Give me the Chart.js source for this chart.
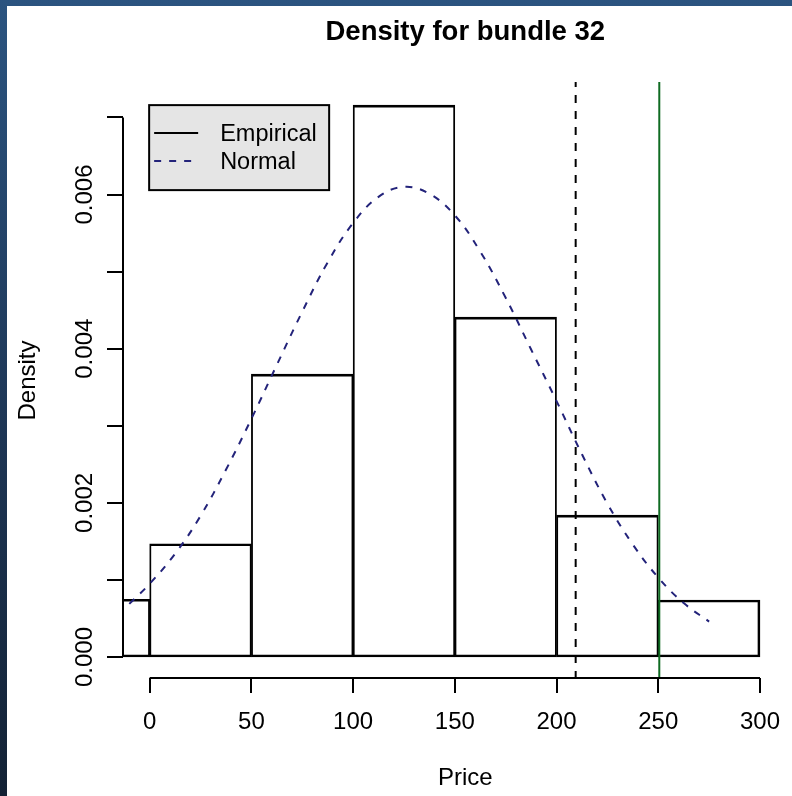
<!DOCTYPE html>
<html>
<head>
<meta charset="utf-8">
<script src="https://cdn.jsdelivr.net/npm/chart.js@4"></script>
<style>
  html, body { margin: 0; padding: 0; overflow: hidden; width: 792px; height: 796px; }
  body { background: linear-gradient(to bottom, #2b5480 0%, #1d3554 55%, #132235 100%); position: relative; }
  #wrap { position: absolute; left: 7px; top: 6px; width: 830px; height: 790px; background: #fff; }
</style>
</head>
<body>
<div id="wrap"><canvas id="chart" width="830" height="790"></canvas></div>
<script>
// Histogram bins (price) and density per bin
const binStarts = [-50, 0, 50, 100, 150, 200, 250];
const binWidth = 50;
const densities = [0.00075, 0.00147, 0.00367, 0.00716, 0.00441, 0.00184, 0.00074];

// Fitted normal curve
const normalX = [-10, 0, 12.5, 25, 37.5, 50, 62.5, 75, 87.5, 100, 112.5, 125, 137.5, 150, 162.5, 175, 187.5, 200, 212.5, 225, 237.5, 250, 262.5, 275];
const normalY = [0.00069, 0.00095, 0.00134, 0.00183, 0.00243, 0.00309, 0.00379, 0.00448, 0.00512, 0.00563, 0.00597, 0.00610, 0.00601, 0.00573, 0.00526, 0.00466, 0.00399, 0.00332, 0.00263, 0.00199, 0.00146, 0.00103, 0.00070, 0.00046];

// Reference lines
const meanLine = 209.4;
const bundleLine = 250.5;

// Axis ticks
const xTicks = [0, 50, 100, 150, 200, 250, 300];
const yTicks = [0, 0.001, 0.002, 0.003, 0.004, 0.005, 0.006, 0.007];
const yLabels = ['0.000', '0.002', '0.004', '0.006'];
const yLabelValues = [0, 0.002, 0.004, 0.006];

const xMin = -13.1, xMax = 323.4;
const yMin = -0.000285, yMax = 0.00746;

const FONT = '"Liberation Sans", Arial, sans-serif';

const histData = binStarts.map((s, i) => ({ x: s + binWidth / 2, y: densities[i] }));
const curveData = normalX.map((x, i) => ({ x: x, y: normalY[i] }));

// R-style axes, titles and legend
const rStyle = {
  id: 'rStyle',
  afterDraw(chart) {
    const ctx = chart.ctx;
    const xs = chart.scales.x, ys = chart.scales.y;
    const area = chart.chartArea;
    ctx.save();
    ctx.strokeStyle = '#000';
    ctx.fillStyle = '#000';
    ctx.lineWidth = 2;

    // y axis
    const yl = Math.round(area.left);
    ctx.beginPath();
    ctx.moveTo(yl, ys.getPixelForValue(yTicks[0]));
    ctx.lineTo(yl, ys.getPixelForValue(yTicks[yTicks.length - 1]));
    yTicks.forEach(v => {
      const py = Math.round(ys.getPixelForValue(v));
      ctx.moveTo(yl, py);
      ctx.lineTo(yl - 16, py);
    });
    ctx.stroke();
    ctx.font = '24px ' + FONT;
    ctx.textAlign = 'center';
    ctx.textBaseline = 'middle';
    yLabelValues.forEach((v, i) => {
      ctx.save();
      ctx.translate(78, ys.getPixelForValue(v));
      ctx.rotate(-Math.PI / 2);
      ctx.fillText(yLabels[i], 0, 0);
      ctx.restore();
    });

    // x axis
    const xb = Math.round(area.bottom) - 1;
    ctx.beginPath();
    ctx.moveTo(xs.getPixelForValue(xTicks[0]), xb);
    ctx.lineTo(xs.getPixelForValue(xTicks[xTicks.length - 1]), xb);
    xTicks.forEach(v => {
      const px = Math.round(xs.getPixelForValue(v));
      ctx.moveTo(px, xb);
      ctx.lineTo(px, xb + 15);
    });
    ctx.stroke();
    xTicks.forEach(v => {
      ctx.fillText(String(v), xs.getPixelForValue(v), 716);
    });

    // axis titles
    const cx = (area.left + area.right) / 2;
    ctx.fillText('Price', cx, 772);
    ctx.save();
    ctx.translate(21, (area.top + area.bottom) / 2);
    ctx.rotate(-Math.PI / 2);
    ctx.fillText('Density', 0, 0);
    ctx.restore();

    // main title
    ctx.font = 'bold 27.5px ' + FONT;
    ctx.textBaseline = 'alphabetic';
    ctx.fillText('Density for bundle 32', cx, 34);

    // legend
    const lx = xs.getPixelForValue(0) - 0.5;
    const ly = ys.getPixelForValue(densities[3]);
    const lw = 180, lh = 85;
    ctx.fillStyle = '#e5e5e5';
    ctx.fillRect(lx, ly, lw, lh);
    ctx.lineWidth = 2;
    ctx.strokeRect(lx, ly, lw, lh);
    ctx.beginPath();
    ctx.moveTo(lx + 5, ly + 28);
    ctx.lineTo(lx + 49, ly + 28);
    ctx.strokeStyle = '#000';
    ctx.stroke();
    ctx.beginPath();
    ctx.setLineDash([7, 8]);
    ctx.strokeStyle = '#23237a';
    ctx.moveTo(lx + 5, ly + 56);
    ctx.lineTo(lx + 49, ly + 56);
    ctx.stroke();
    ctx.setLineDash([]);
    ctx.fillStyle = '#000';
    ctx.font = '23.5px ' + FONT;
    ctx.textAlign = 'left';
    ctx.textBaseline = 'middle';
    ctx.fillText('Empirical', lx + 71, ly + 29);
    ctx.fillText('Normal', lx + 71, ly + 57);
    ctx.restore();
  }
};

const lastBin = binStarts.length - 1;

new Chart(document.getElementById('chart').getContext('2d'), {
  type: 'bar',
  data: {
    datasets: [
      {
        type: 'line',
        label: 'Bundle price',
        data: [{ x: bundleLine, y: yMin }, { x: bundleLine, y: yMax }],
        borderColor: '#0f6b22',
        borderWidth: 2,
        pointRadius: 0,
        order: 1
      },
      {
        type: 'line',
        label: 'Mean',
        data: [{ x: meanLine, y: yMin }, { x: meanLine, y: yMax }],
        borderColor: '#000',
        borderWidth: 2,
        borderDash: [8, 8],
        pointRadius: 0,
        order: 2
      },
      {
        type: 'line',
        label: 'Normal',
        data: curveData,
        borderColor: '#23237a',
        borderWidth: 2,
        borderDash: [7, 8],
        pointRadius: 0,
        tension: 0.4,
        fill: false,
        order: 3
      },
      {
        type: 'bar',
        label: 'Empirical',
        data: histData,
        backgroundColor: 'rgba(255,255,255,0)',
        borderColor: '#000',
        borderSkipped: false,
        borderWidth: (c) => ({
          top: 2, bottom: 2,
          left: c.dataIndex === 0 ? 2 : 1.2,
          right: c.dataIndex === lastBin ? 2 : 1.2
        }),
        barPercentage: 1,
        categoryPercentage: 1,
        order: 4
      }
    ]
  },
  options: {
    responsive: false,
    devicePixelRatio: 1,
    animation: false,
    layout: { padding: { left: 116, top: 76, right: 29.4, bottom: 117 } },
    plugins: { legend: { display: false }, tooltip: { enabled: false }, title: { display: false } },
    scales: {
      x: { type: 'linear', min: xMin, max: xMax, offset: false, display: false },
      y: { type: 'linear', min: yMin, max: yMax, display: false }
    }
  },
  plugins: [rStyle]
});
</script>
</body>
</html>
